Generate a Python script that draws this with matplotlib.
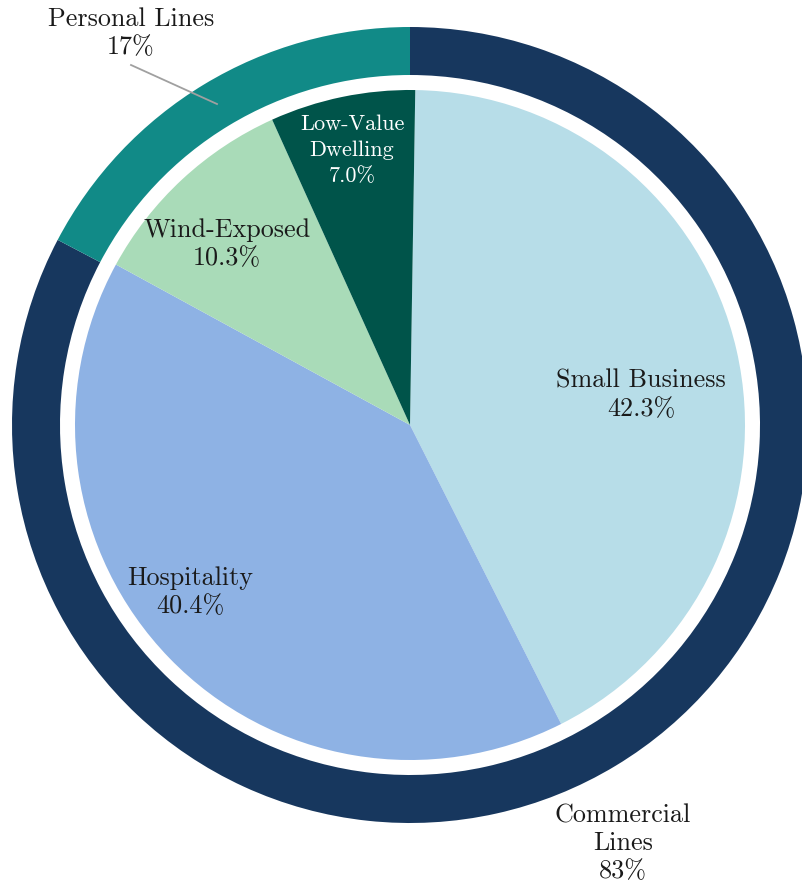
import matplotlib
matplotlib.use("Agg")
import matplotlib.pyplot as plt

# outer ring
outer_labels = ["Commercial\nLines", "Personal Lines"]
outer_values = [82.7, 17.3]
outer_text = ["83%", "17%"]
outer_colors = ["#17375e", "#118a87"]

# inner pie
inner_labels = ["Small Business", "Hospitality", "Wind-Exposed", "Low-Value\nDwelling"]
inner_values = [42.3, 40.4, 10.3, 7.0]
inner_colors = ["#b7dde8", "#8eb2e4", "#a9dbb8", "#00544a"]
inner_text_colors = ["#1a1a1a", "#1a1a1a", "#1a1a1a", "white"]

W, H = 803, 885
cx, cy = 410, H - 425

fig = plt.figure(figsize=(W / 100, H / 100), dpi=100)
ax = fig.add_axes([0, 0, 1, 1])

ax.pie(outer_values, radius=398, center=(cx, cy), startangle=90, counterclock=False,
       colors=outer_colors, wedgeprops=dict(width=48, edgecolor="none"))
ax.pie(inner_values, radius=335, center=(cx, cy), startangle=89.1, counterclock=False,
       colors=inner_colors, wedgeprops=dict(edgecolor="none"))

ax.set_xlim(0, W)
ax.set_ylim(0, H)
ax.set_aspect("equal")
ax.axis("off")

font = dict(family="cmr10", ha="center", va="center")

# inner labels (image pixel positions); the small slice gets a smaller font
inner_pos = [(641, 395), (190, 592), (227, 244), (352, 150)]
inner_sizes = [18.8, 18.8, 18.8, 16]
for lab, val, (x, y), c, s in zip(inner_labels, inner_values, inner_pos,
                                  inner_text_colors, inner_sizes):
    ax.text(x, H - y, f"{lab}\n{val:.1f}%", color=c, size=s,
            linespacing=1.22 * 18.8 / s, **font)

# outer labels
ax.text(623, H - 843, f"{outer_labels[0]}\n{outer_text[0]}", color="#1a1a1a",
        size=18.8, linespacing=1.22, **font)
ax.text(131, H - 33, f"{outer_labels[1]}\n{outer_text[1]}", color="#1a1a1a",
        size=18.8, linespacing=1.22, **font)
ax.plot([131, 217], [H - 65, H - 104], color="#a0a0a0", lw=1.3)

fig.savefig("out.png", dpi=100)
